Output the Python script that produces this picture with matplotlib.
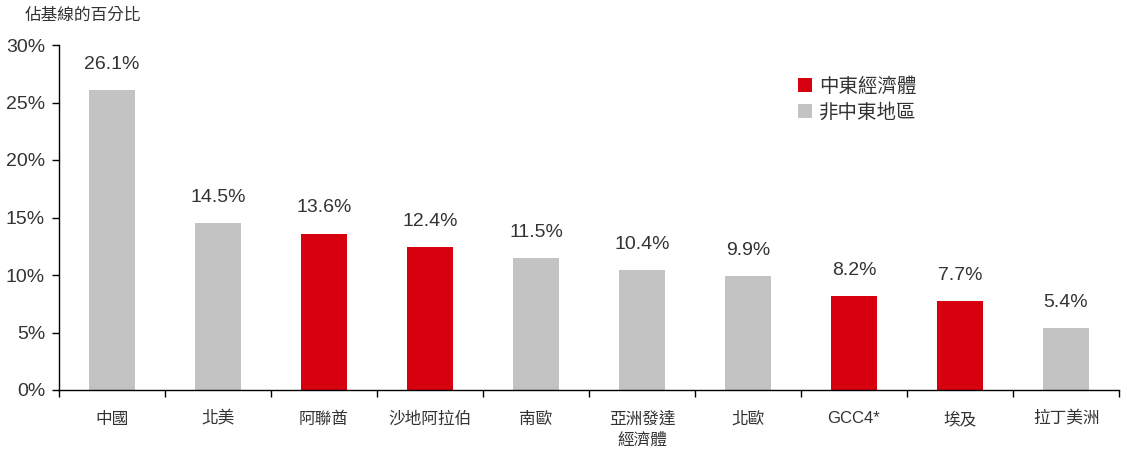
import matplotlib
matplotlib.use("Agg")
import matplotlib.pyplot as plt
from matplotlib import font_manager
from matplotlib.patches import Patch

categories = ["中國", "北美", "阿聯酋", "沙地阿拉伯", "南歐", "亞洲發達\n經濟體", "北歐", "GCC4*", "埃及", "拉丁美洲"]
values = [26.1, 14.5, 13.6, 12.4, 11.5, 10.4, 9.9, 8.2, 7.7, 5.4]
is_me = [False, False, True, True, False, False, False, True, True, False]
yticks = [0, 5, 10, 15, 20, 25, 30]
ylabel = "佔基線的百分比"
legend_labels = ["中東經濟體", "非中東地區"]

RED = "#D7000F"
GREY = "#C3C3C3"
TXT = "#333333"

names = {f.name for f in font_manager.fontManager.ttflist}
num_font = "Liberation Sans Narrow" if "Liberation Sans Narrow" in names else "Liberation Sans"
cjk = ["Noto Sans CJK TC", "DejaVu Sans"]
mixed = ["Liberation Sans", "Noto Sans CJK TC", "DejaVu Sans"]

fig = plt.figure(figsize=(11.27, 4.5), dpi=100)
ax = fig.add_axes([59/1127, 1-390/450, (1119-59)/1127, (390-45)/450])

x = list(range(len(categories)))
colors = [RED if m else GREY for m in is_me]
ax.bar(x, values, width=0.43, color=colors, zorder=2)

for xi, v in zip(x, values):
    ax.annotate(f"{v:.1f}%", (xi, v), xytext=(0, 18.5), textcoords="offset points",
                ha="center", va="center", fontsize=14, family=num_font, color=TXT)

ax.set_xlim(-0.5, len(categories) - 0.5)
ax.set_ylim(0, 30)
ax.set_yticks(yticks)
ax.set_yticklabels([f"{t}%" for t in yticks], family=num_font, fontsize=14, color=TXT)

ax.set_xticks(x)
ax.set_xticklabels(categories, fontsize=12, color=TXT, linespacing=1.3, va="top")
for lbl in ax.get_xticklabels():
    lbl.set_family(cjk if any(ord(c) > 127 for c in lbl.get_text()) else mixed)
ax.set_xticks([i - 0.5 for i in range(len(categories) + 1)], minor=True)
ax.tick_params(axis="x", which="major", length=0, pad=15)
ax.tick_params(axis="x", which="minor", length=5, width=1, direction="out")
ax.tick_params(axis="y", length=5, width=1, direction="out", pad=5)

for s in ["top", "right"]:
    ax.spines[s].set_visible(False)
for s in ["left", "bottom"]:
    ax.spines[s].set_linewidth(1)
    ax.spines[s].set_color("black")

fig.text(25/1127, 1-15/450, ylabel, family=cjk, fontsize=12, color=TXT, ha="left", va="center")

handles = [Patch(facecolor=RED, edgecolor="none"), Patch(facecolor=GREY, edgecolor="none")]
leg = fig.legend(handles, legend_labels, loc="upper left", bbox_to_anchor=(790/1127, 1-68/450),
                 frameon=False, prop={"family": cjk, "size": 14}, handlelength=0.75, handleheight=0.75,
                 handletextpad=0.35, labelspacing=0.25, borderaxespad=0)
for t in leg.get_texts():
    t.set_color(TXT)

fig.savefig("out.png", dpi=100)
